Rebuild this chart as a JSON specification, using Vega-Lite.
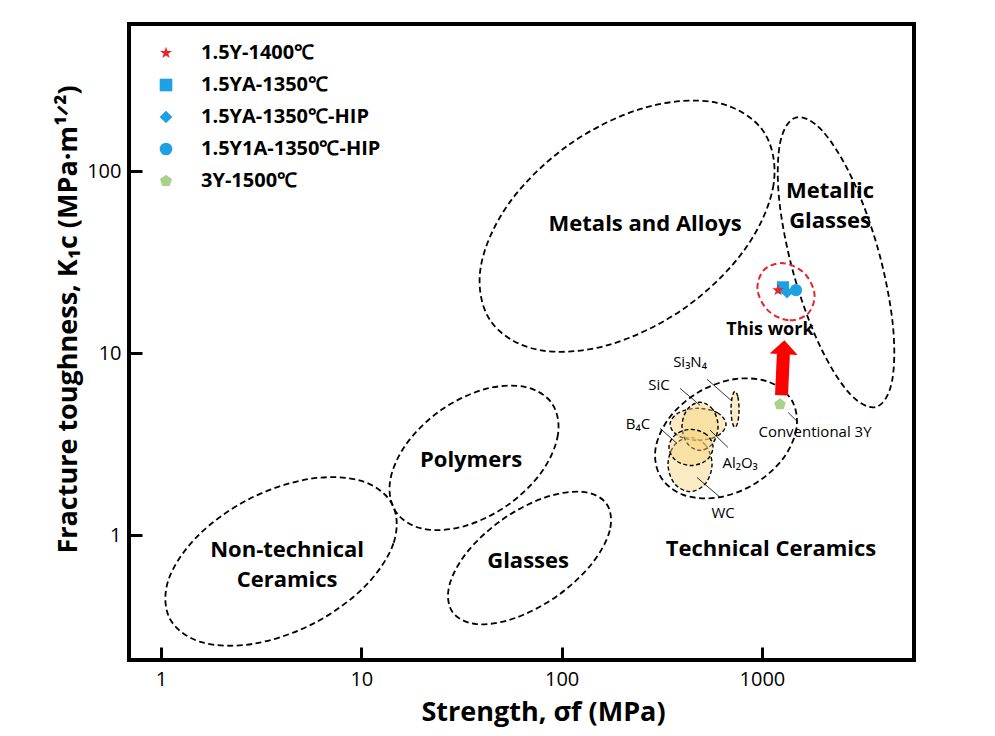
{
  "$schema": "https://vega.github.io/schema/vega-lite/v6.json",
  "width": 785,
  "height": 636,
  "autosize": {"type": "none"},
  "padding": {"left": 129, "top": 24, "right": 81, "bottom": 76},
  "config": {
    "font": "Open Sans",
    "view": {"stroke": "black", "strokeWidth": 4},
    "axis": {"domain": false, "grid": false, "ticks": true, "tickColor": "black", "tickWidth": 3, "tickSize": -13, "labelFontSize": 20, "labelColor": "black", "titleFontSize": 27, "titleFontWeight": "bold", "titleColor": "black", "labelFont": "Open Sans", "titleFont": "Open Sans"}
  },
  "encoding": {
    "x": {"field": "strength", "type": "quantitative", "scale": {"type": "log", "domain": [0.692, 5745], "nice": false}, "axis": {"values": [1, 10, 100, 1000], "format": "d", "labelPadding": 22, "title": "Strength, σf (MPa)", "titlePadding": 10, "titleX": 414}},
    "y": {"field": "toughness", "type": "quantitative", "scale": {"type": "log", "domain": [0.207, 642.5], "nice": false}, "axis": {"values": [1, 10, 100], "format": "d", "labelPadding": 21, "title": "Fracture toughness, K₁c (MPa·m¹ᐟ²)", "titlePadding": 4, "titleY": 295}}
  },
  "layer": [
    {
      "data": {"values": [
        {"name": "Non-technical Ceramics", "i": 1, "strength": 14.3, "toughness": 1.476},
        {"name": "Non-technical Ceramics", "i": 2, "strength": 14.47, "toughness": 0.904},
        {"name": "Non-technical Ceramics", "i": 3, "strength": 10.34, "toughness": 0.5206},
        {"name": "Non-technical Ceramics", "i": 4, "strength": 5.727, "toughness": 0.3268},
        {"name": "Non-technical Ceramics", "i": 5, "strength": 2.873, "toughness": 0.2537},
        {"name": "Non-technical Ceramics", "i": 6, "strength": 1.573, "toughness": 0.2602},
        {"name": "Non-technical Ceramics", "i": 7, "strength": 1.104, "toughness": 0.3508},
        {"name": "Non-technical Ceramics", "i": 8, "strength": 1.091, "toughness": 0.5732},
        {"name": "Non-technical Ceramics", "i": 9, "strength": 1.527, "toughness": 0.995},
        {"name": "Non-technical Ceramics", "i": 10, "strength": 2.756, "toughness": 1.585},
        {"name": "Non-technical Ceramics", "i": 11, "strength": 5.495, "toughness": 2.041},
        {"name": "Non-technical Ceramics", "i": 12, "strength": 10.03, "toughness": 1.99},
        {"name": "Polymers", "i": 1, "strength": 89.4, "toughness": 5.312},
        {"name": "Polymers", "i": 2, "strength": 95.9, "toughness": 3.584},
        {"name": "Polymers", "i": 3, "strength": 79.6, "toughness": 2.236},
        {"name": "Polymers", "i": 4, "strength": 53.6, "toughness": 1.462},
        {"name": "Polymers", "i": 5, "strength": 32.5, "toughness": 1.122},
        {"name": "Polymers", "i": 6, "strength": 20.4, "toughness": 1.086},
        {"name": "Polymers", "i": 7, "strength": 14.94, "toughness": 1.338},
        {"name": "Polymers", "i": 8, "strength": 13.91, "toughness": 1.983},
        {"name": "Polymers", "i": 9, "strength": 16.78, "toughness": 3.178},
        {"name": "Polymers", "i": 10, "strength": 24.9, "toughness": 4.862},
        {"name": "Polymers", "i": 11, "strength": 41.0, "toughness": 6.333},
        {"name": "Polymers", "i": 12, "strength": 65.4, "toughness": 6.545},
        {"name": "Glasses", "i": 1, "strength": 167.6, "toughness": 1.49},
        {"name": "Glasses", "i": 2, "strength": 173.9, "toughness": 1.065},
        {"name": "Glasses", "i": 3, "strength": 140.9, "toughness": 0.6947},
        {"name": "Glasses", "i": 4, "strength": 94.3, "toughness": 0.4623},
        {"name": "Glasses", "i": 5, "strength": 58.1, "toughness": 0.3508},
        {"name": "Glasses", "i": 6, "strength": 37.5, "toughness": 0.326},
        {"name": "Glasses", "i": 7, "strength": 28.5, "toughness": 0.38},
        {"name": "Glasses", "i": 8, "strength": 27.5, "toughness": 0.5313},
        {"name": "Glasses", "i": 9, "strength": 33.9, "toughness": 0.8147},
        {"name": "Glasses", "i": 10, "strength": 50.7, "toughness": 1.224},
        {"name": "Glasses", "i": 11, "strength": 82.3, "toughness": 1.613},
        {"name": "Glasses", "i": 12, "strength": 127.4, "toughness": 1.734},
        {"name": "Metals and Alloys", "i": 1, "strength": 1013, "toughness": 166.5},
        {"name": "Metals and Alloys", "i": 2, "strength": 1143, "toughness": 84.4},
        {"name": "Metals and Alloys", "i": 3, "strength": 820.7, "toughness": 37.14},
        {"name": "Metals and Alloys", "i": 4, "strength": 410.4, "toughness": 17.69},
        {"name": "Metals and Alloys", "i": 5, "strength": 171.9, "toughness": 11.12},
        {"name": "Metals and Alloys", "i": 6, "strength": 76.2, "toughness": 10.45},
        {"name": "Metals and Alloys", "i": 7, "strength": 44.4, "toughness": 14.94},
        {"name": "Metals and Alloys", "i": 8, "strength": 39.4, "toughness": 29.46},
        {"name": "Metals and Alloys", "i": 9, "strength": 54.8, "toughness": 66.96},
        {"name": "Metals and Alloys", "i": 10, "strength": 109.6, "toughness": 140.5},
        {"name": "Metals and Alloys", "i": 11, "strength": 261.8, "toughness": 223.6},
        {"name": "Metals and Alloys", "i": 12, "strength": 590.6, "toughness": 237.9},
        {"name": "Metallic Glasses", "i": 1, "strength": 3717, "toughness": 5.077},
        {"name": "Metallic Glasses", "i": 2, "strength": 4457, "toughness": 6.982},
        {"name": "Metallic Glasses", "i": 3, "strength": 4503, "toughness": 14.39},
        {"name": "Metallic Glasses", "i": 4, "strength": 3817, "toughness": 36.67},
        {"name": "Metallic Glasses", "i": 5, "strength": 2840, "toughness": 89.7},
        {"name": "Metallic Glasses", "i": 6, "strength": 2007, "toughness": 166.1},
        {"name": "Metallic Glasses", "i": 7, "strength": 1478, "toughness": 197.0},
        {"name": "Metallic Glasses", "i": 8, "strength": 1233, "toughness": 143.2},
        {"name": "Metallic Glasses", "i": 9, "strength": 1220, "toughness": 69.5},
        {"name": "Metallic Glasses", "i": 10, "strength": 1440, "toughness": 27.27},
        {"name": "Metallic Glasses", "i": 11, "strength": 1935, "toughness": 11.15},
        {"name": "Metallic Glasses", "i": 12, "strength": 2737, "toughness": 6.022},
        {"name": "Technical Ceramics", "i": 1, "strength": 1409, "toughness": 5.517},
        {"name": "Technical Ceramics", "i": 2, "strength": 1487, "toughness": 3.852},
        {"name": "Technical Ceramics", "i": 3, "strength": 1263, "toughness": 2.606},
        {"name": "Technical Ceramics", "i": 4, "strength": 901.7, "toughness": 1.894},
        {"name": "Technical Ceramics", "i": 5, "strength": 593.3, "toughness": 1.611},
        {"name": "Technical Ceramics", "i": 6, "strength": 401.9, "toughness": 1.675},
        {"name": "Technical Ceramics", "i": 7, "strength": 311.1, "toughness": 2.11},
        {"name": "Technical Ceramics", "i": 8, "strength": 294.7, "toughness": 3.017},
        {"name": "Technical Ceramics", "i": 9, "strength": 347.3, "toughness": 4.467},
        {"name": "Technical Ceramics", "i": 10, "strength": 485.9, "toughness": 6.145},
        {"name": "Technical Ceramics", "i": 11, "strength": 738.3, "toughness": 7.225},
        {"name": "Technical Ceramics", "i": 12, "strength": 1091, "toughness": 6.937}
      ]},
      "mark": {"type": "line", "interpolate": "cardinal-closed", "color": "black", "strokeWidth": 1.8, "strokeDash": [6, 3.5]},
      "encoding": {"detail": {"field": "name", "type": "nominal"}, "order": {"field": "i", "type": "quantitative"}}
    },
    {
      "data": {"values": [
        {"name": "WC", "i": 1, "strength": 563.6, "toughness": 2.46},
        {"name": "WC", "i": 2, "strength": 523.6, "toughness": 3.13},
        {"name": "WC", "i": 3, "strength": 437.5, "toughness": 3.45},
        {"name": "WC", "i": 4, "strength": 365.6, "toughness": 3.13},
        {"name": "WC", "i": 5, "strength": 339.8, "toughness": 2.46},
        {"name": "WC", "i": 6, "strength": 365.6, "toughness": 1.93},
        {"name": "WC", "i": 7, "strength": 437.5, "toughness": 1.74},
        {"name": "WC", "i": 8, "strength": 523.6, "toughness": 1.93},
        {"name": "B4C", "i": 1, "strength": 662, "toughness": 4.07},
        {"name": "B4C", "i": 2, "strength": 602.6, "toughness": 4.7},
        {"name": "B4C", "i": 3, "strength": 479.5, "toughness": 4.99},
        {"name": "B4C", "i": 4, "strength": 382, "toughness": 4.7},
        {"name": "B4C", "i": 5, "strength": 347.7, "toughness": 4.07},
        {"name": "B4C", "i": 6, "strength": 382, "toughness": 3.53},
        {"name": "B4C", "i": 7, "strength": 479.5, "toughness": 3.33},
        {"name": "B4C", "i": 8, "strength": 602.6, "toughness": 3.53},
        {"name": "SiC", "i": 1, "strength": 604, "toughness": 3.97},
        {"name": "SiC", "i": 2, "strength": 568, "toughness": 4.92},
        {"name": "SiC", "i": 3, "strength": 491, "toughness": 5.38},
        {"name": "SiC", "i": 4, "strength": 424, "toughness": 4.92},
        {"name": "SiC", "i": 5, "strength": 399, "toughness": 3.97},
        {"name": "SiC", "i": 6, "strength": 424, "toughness": 3.2},
        {"name": "SiC", "i": 7, "strength": 491, "toughness": 2.93},
        {"name": "SiC", "i": 8, "strength": 568, "toughness": 3.2},
        {"name": "Al2O3", "i": 1, "strength": 570, "toughness": 3.05},
        {"name": "Al2O3", "i": 2, "strength": 529.7, "toughness": 3.57},
        {"name": "Al2O3", "i": 3, "strength": 442.6, "toughness": 3.82},
        {"name": "Al2O3", "i": 4, "strength": 370, "toughness": 3.57},
        {"name": "Al2O3", "i": 5, "strength": 343.6, "toughness": 3.05},
        {"name": "Al2O3", "i": 6, "strength": 370, "toughness": 2.59},
        {"name": "Al2O3", "i": 7, "strength": 442.6, "toughness": 2.42},
        {"name": "Al2O3", "i": 8, "strength": 529.7, "toughness": 2.59},
        {"name": "Si3N4", "i": 1, "strength": 769, "toughness": 4.92},
        {"name": "Si3N4", "i": 2, "strength": 758, "toughness": 5.78},
        {"name": "Si3N4", "i": 3, "strength": 734, "toughness": 6.18},
        {"name": "Si3N4", "i": 4, "strength": 711, "toughness": 5.78},
        {"name": "Si3N4", "i": 5, "strength": 701, "toughness": 4.92},
        {"name": "Si3N4", "i": 6, "strength": 711, "toughness": 4.19},
        {"name": "Si3N4", "i": 7, "strength": 734, "toughness": 3.92},
        {"name": "Si3N4", "i": 8, "strength": 758, "toughness": 4.19}
      ]},
      "mark": {"type": "line", "interpolate": "cardinal-closed", "color": "black", "fill": "#f7d27e", "fillOpacity": 0.45, "strokeWidth": 1.4, "strokeDash": [4, 2.5]},
      "encoding": {"detail": {"field": "name", "type": "nominal"}, "order": {"field": "i", "type": "quantitative"}}
    },
    {
      "data": {"values": [
        {"strength": 532, "toughness": 7.2, "strength2": 701, "toughness2": 5.52},
        {"strength": 390, "toughness": 6.42, "strength2": 491, "toughness2": 5.18},
        {"strength": 310, "toughness": 3.87, "strength2": 377, "toughness2": 3.2},
        {"strength": 677, "toughness": 3.04, "strength2": 551, "toughness2": 3.78},
        {"strength": 618, "toughness": 1.62, "strength2": 474, "toughness2": 2.08},
        {"strength": 1349, "toughness": 4.74, "strength2": 1497, "toughness2": 4.23}
      ]},
      "mark": {"type": "rule", "color": "black", "strokeWidth": 0.8},
      "encoding": {"x2": {"field": "strength2"}, "y2": {"field": "toughness2"}}
    },
    {
      "data": {"values": [
        {"name": "This work", "i": 1, "strength": 1697, "toughness": 16.51},
        {"name": "This work", "i": 2, "strength": 1357, "toughness": 15.18},
        {"name": "This work", "i": 3, "strength": 1068, "toughness": 17.25},
        {"name": "This work", "i": 4, "strength": 950.6, "toughness": 22.47},
        {"name": "This work", "i": 5, "strength": 1026, "toughness": 28.72},
        {"name": "This work", "i": 6, "strength": 1282, "toughness": 31.23},
        {"name": "This work", "i": 7, "strength": 1630, "toughness": 27.48},
        {"name": "This work", "i": 8, "strength": 1830, "toughness": 21.1}
      ]},
      "mark": {"type": "line", "interpolate": "cardinal-closed", "color": "#e0262b", "strokeWidth": 2, "strokeDash": [6, 3.5]},
      "encoding": {"order": {"field": "i", "type": "quantitative"}}
    },
    {
      "data": {"values": [{"strength": 1253, "toughness": 5.88, "strength2": 1282, "toughness2": 10.38}]},
      "mark": {"type": "rule", "color": "#ff0000", "strokeWidth": 13, "strokeCap": "butt"},
      "encoding": {"x2": {"field": "strength2"}, "y2": {"field": "toughness2"}}
    },
    {
      "data": {"values": [{"strength": 1289, "toughness": 10.79}]},
      "mark": {"type": "point", "shape": "M0,-0.5L1,0.5L-1,0.5Z", "size": 784, "filled": true, "color": "#ff0000", "opacity": 1, "angle": 3}
    },
    {
      "data": {"values": [
        {"sample": "3Y-1500℃", "strength": 1231, "toughness": 5.24},
        {"sample": "1.5YA-1350℃", "strength": 1274, "toughness": 23.0},
        {"sample": "1.5YA-1350℃-HIP", "strength": 1334, "toughness": 21.6},
        {"sample": "1.5Y1A-1350℃-HIP", "strength": 1479, "toughness": 22.2},
        {"sample": "1.5Y-1400℃", "strength": 1203, "toughness": 22.2}
      ]},
      "mark": {"type": "point", "filled": true, "opacity": 1, "size": 150},
      "encoding": {
        "color": {"field": "sample", "type": "nominal", "scale": {"domain": ["1.5Y-1400℃", "1.5YA-1350℃", "1.5YA-1350℃-HIP", "1.5Y1A-1350℃-HIP", "3Y-1500℃"], "range": ["#e8232a", "#1da1e3", "#1da1e3", "#1da1e3", "#a9d18e"]},
          "legend": {"title": null, "orient": "none", "legendX": 27, "legendY": 19, "labelFontSize": 20, "labelFontWeight": "bold", "labelColor": "black", "labelLimit": 0, "symbolSize": 160, "rowPadding": 12, "labelOffset": 25}},
        "shape": {"field": "sample", "type": "nominal", "scale": {"domain": ["1.5Y-1400℃", "1.5YA-1350℃", "1.5YA-1350℃-HIP", "1.5Y1A-1350℃-HIP", "3Y-1500℃"], "range": ["M0,-1L0.225,-0.309L0.951,-0.309L0.363,0.118L0.588,0.809L0,0.382L-0.588,0.809L-0.363,0.118L-0.951,-0.309L-0.225,-0.309Z", "square", "diamond", "circle", "M0,-1L0.951,-0.309L0.588,0.809L-0.588,0.809L-0.951,-0.309Z"]},
          "legend": {"title": null, "orient": "none", "legendX": 27, "legendY": 19, "labelFontSize": 20, "labelFontWeight": "bold", "labelColor": "black", "labelLimit": 0, "symbolSize": 160, "rowPadding": 12, "labelOffset": 25}}
      }
    },
    {
      "data": {"values": [
        {"label": "Metals and Alloys", "strength": 261, "toughness": 51.2},
        {"label": "Metallic\nGlasses", "strength": 2188, "toughness": 77.6},
        {"label": "Polymers", "strength": 35.3, "toughness": 2.58},
        {"label": "Glasses", "strength": 68.0, "toughness": 0.72},
        {"label": "Non-technical\nCeramics", "strength": 4.26, "toughness": 0.827},
        {"label": "Technical Ceramics", "strength": 1110, "toughness": 0.838}
      ]},
      "mark": {"type": "text", "fontSize": 22, "fontWeight": "bold", "lineBreak": "\n", "lineHeight": 30, "color": "black"},
      "encoding": {"text": {"field": "label", "type": "nominal"}}
    },
    {
      "data": {"values": [{"label": "This work", "strength": 1097, "toughness": 13.37}]},
      "mark": {"type": "text", "fontSize": 18, "fontWeight": "bold", "color": "black"},
      "encoding": {"text": {"field": "label", "type": "nominal"}}
    },
    {
      "data": {"values": [
        {"label": "Si₃N₄", "strength": 437.5, "toughness": 8.92},
        {"label": "SiC", "strength": 306, "toughness": 6.67},
        {"label": "B₄C", "strength": 240.5, "toughness": 4.07},
        {"label": "Al₂O₃", "strength": 778, "toughness": 2.49},
        {"label": "WC", "strength": 640, "toughness": 1.32},
        {"label": "Conventional 3Y", "strength": 1841, "toughness": 3.68}
      ]},
      "mark": {"type": "text", "fontSize": 15, "color": "black"},
      "encoding": {"text": {"field": "label", "type": "nominal"}}
    }
  ]
}
